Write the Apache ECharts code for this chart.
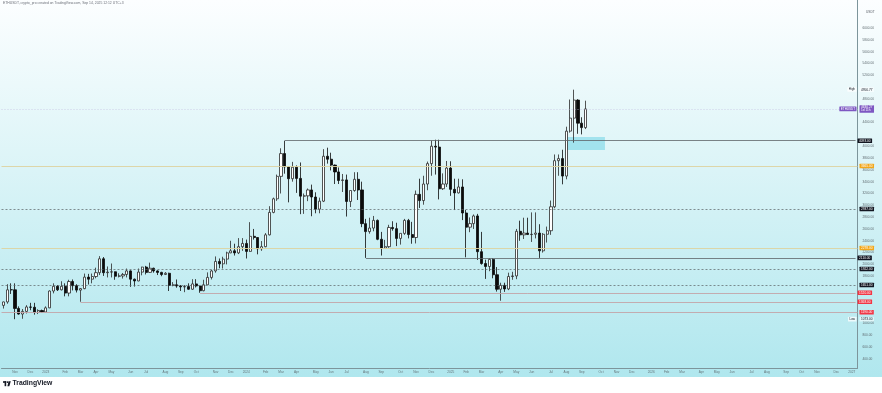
<!DOCTYPE html>
<html><head><meta charset="utf-8">
<script src="https://cdn.jsdelivr.net/npm/echarts@6.0.0/dist/echarts.min.js"></script>
<style>html,body{margin:0;padding:0;background:#fff}#c{width:882px;height:393px}</style>
</head><body><div id="c"></div>
<script>
// ---- weekly candles (ETHUSDT), first week 2022-10-17 ----
const firstWeek = '2022-10-17';
const totalWeeks = 222;
const open = [1307,1365,1572,1570,1255,1160,1205,1280,1275,1190,1220,1195,1265,1550,1630,1570,1630,1515,1710,1640,
1565,1590,1785,1750,1795,1860,2095,1860,1870,1875,1800,1805,1830,1890,1750,1720,1870,1955,1865,1935,
1890,1865,1830,1850,1645,1655,1635,1620,1625,1580,1670,1635,1555,1655,1780,1890,2050,2010,2090,2195,
2230,2195,2300,2355,2220,2475,2455,2265,2300,2500,2880,3110,3490,3875,3650,3450,3645,3455,3155,3160,
3260,3140,2935,3070,3830,3780,3680,3565,3420,3430,3065,3250,3440,3260,2690,2555,2615,2745,2425,2275,
2300,2625,2605,2440,2525,2745,2505,2455,3185,3080,3360,3705,4000,3985,3280,3360,3630,3270,3210,3310,
2870,2630,2690,2820,2215,2015,1965,2085,1825,1580,1645,1585,1795,1805,2560,2500,2530,2505,2510,2530,
2230,2510,2570,2975,3755,3790,3495,4255,4475,4780,4390,4315];
const close = [1365,1570,1570,1255,1160,1205,1280,1275,1190,1220,1195,1265,1550,1630,1570,1630,1515,1710,1640,1565,
1590,1785,1750,1795,1860,2095,1860,1870,1875,1800,1805,1830,1890,1750,1720,1870,1955,1865,1935,1890,
1865,1830,1850,1645,1655,1635,1620,1625,1580,1670,1635,1555,1655,1780,1890,2050,2010,2090,2195,2230,
2195,2300,2355,2220,2475,2455,2265,2300,2500,2880,3110,3490,3875,3650,3450,3645,3455,3155,3160,3260,
3140,2935,3070,3830,3780,3680,3565,3420,3430,3065,3250,3440,3260,2690,2555,2615,2745,2425,2275,2300,
2625,2605,2440,2525,2745,2505,2455,3185,3080,3360,3705,4000,3985,3280,3360,3630,3270,3210,3310,2870,
2630,2690,2820,2215,2015,1965,2085,1825,1580,1645,1585,1795,1805,2560,2500,2530,2505,2510,2530,2230,
2510,2570,2975,3755,3790,3495,4255,4475,4780,4390,4315,4630.27];
const high = [1370,1665,1680,1680,1290,1245,1310,1350,1350,1240,1235,1290,1560,1680,1650,1715,1680,1740,1745,1665,
1600,1845,1840,1845,1945,2140,2125,1965,2015,1880,1850,1855,1930,1900,1760,1930,1960,1975,2030,1945,
1900,1875,1870,1860,1700,1745,1650,1650,1680,1750,1750,1640,1740,1865,1910,2135,2100,2130,2215,2400,
2350,2445,2445,2420,2715,2600,2460,2395,2530,2985,3130,3520,3965,4093,3660,3735,3675,3725,3200,3285,
3350,3220,3130,3950,3975,3890,3690,3640,3530,3520,3250,3560,3560,3400,2770,2790,2820,2760,2550,2415,
2670,2730,2705,2525,2770,2770,2720,3250,3450,3500,3740,4095,4110,4110,3540,3750,3745,3450,3450,3440,
2920,2795,2845,2855,2550,2080,2105,2105,1955,1690,1690,1860,1875,2600,2740,2790,2790,2880,2880,2680,
2530,2640,3080,3860,3860,3940,4330,4790,4956.77,4795,4490,4770];
const low = [1253,1335,1500,1073,1150,1080,1170,1225,1150,1160,1180,1190,1260,1510,1550,1560,1460,1460,1560,1525,
1368,1580,1660,1680,1765,1820,1805,1780,1780,1740,1780,1760,1780,1620,1625,1715,1815,1830,1855,1860,
1820,1800,1820,1550,1630,1605,1550,1530,1570,1570,1610,1520,1545,1655,1745,1860,1935,1930,2000,2190,
2150,2175,2230,2100,2210,2420,2170,2230,2290,2490,2865,3075,3200,3535,3050,3400,3210,2850,2855,3070,
2815,2865,2865,3055,3705,3590,3360,3360,3225,2810,2970,3230,3090,2630,2110,2520,2560,2410,2150,2265,
2280,2570,2310,2335,2500,2440,2350,2355,2955,3010,3255,3500,3520,3100,3260,3310,3160,2920,3200,2750,
2120,2545,2600,2075,1995,1755,1885,1765,1540,1385,1535,1565,1740,1750,2400,2430,2500,2380,2440,2110,
2200,2370,2500,2950,3500,3355,3440,4230,4060,4210,4200,4290];

// ---- drawn levels ----
const grayLevels = [4093, 2110];
const grayStarts = ['2024-03-11', '2024-08-05'];
const yellowLevels = [3665, 2278];
const dashedLevels = [2937, 1922, 1651];
const redLevels = [1520, 1368, 1190];
const redStarts = ['2023-10-09', '2023-03-06', null];
const zoneStart = '2025-08-04', zoneEnd = '2025-10-13';
const zoneTop = 4155, zoneBottom = 3935;

// ---- axis text ----
const monthNames = ['Jan','Feb','Mar','Apr','May','Jun','Jul','Aug','Sep','Oct','Nov','Dec'];
const hiddenPriceLabels = [1200, 1400, 1600, 4200, 4600, 5000];
const titleText = 'ETHUSDT, crypto_pro created on TradingView.com, Sep 14, 2025 12:12 UTC+3';
const symbolName = 'ETHUSDT';
const countdown = '1d 11h';

// build weekly categories
const categories = [];
const t0 = Date.parse(firstWeek + 'T00:00:00Z');
for (let i = 0; i < totalWeeks; i++) {
  categories.push(new Date(t0 + i * 7 * 86400000).toISOString().slice(0, 10));
}
const lastCat = categories[categories.length - 1];

// pixel calibration of the price scale (price per pixel)
const ppp = 16.92;
const priceAt = y => 6000 - (y - 28) * ppp;
const FONT = 'Liberation Sans, Arial, sans-serif';
const HIDDEN = { color: 'rgba(0,0,0,0)', width: 0.1 };

function endLabel(txt, bg, fg) {
  return { show: true, position: 'end', distance: 2, formatter: txt, fontSize: 3.2, fontFamily: FONT,
    color: fg || '#fff', backgroundColor: bg, padding: [0.8, 1.5], borderRadius: 0.5 };
}
function tagLabel(txt, bg, fg) {
  return { show: true, position: 'insideEndTop', distance: [1, -2.2], formatter: txt, fontSize: 3, fontFamily: FONT,
    color: fg, backgroundColor: bg, padding: [0.8, 1.5], borderRadius: 0.5 };
}
const mlData = [];
grayLevels.forEach((v, i) => {
  mlData.push([{ coord: [grayStarts[i], v], lineStyle: { color: '#5e6468', width: 0.8, type: 'solid' },
    label: endLabel(v.toFixed(2), '#131722') }, { coord: [lastCat, v] }]);
});
yellowLevels.forEach(v => {
  mlData.push({ yAxis: v, lineStyle: { color: '#dcd39f', width: 0.9, type: 'solid' }, label: endLabel(v.toFixed(2), '#f2a71b') });
});
dashedLevels.forEach(v => {
  mlData.push({ yAxis: v, lineStyle: { color: '#5b6266', width: 0.7, type: [2, 2] }, label: endLabel(v.toFixed(2), '#131722') });
});
redLevels.forEach((v, i) => {
  const ls = { color: '#c3a5a8', width: 0.9, type: 'solid' };
  const lb = endLabel(v.toFixed(2), '#f23645');
  if (redStarts[i]) mlData.push([{ coord: [redStarts[i], v], lineStyle: ls, label: lb }, { coord: [lastCat, v] }]);
  else mlData.push({ yAxis: v, lineStyle: ls, label: lb });
});
const lastClose = close[close.length - 1];
const maxHigh = Math.max(...high), minLow = Math.min(...low);
mlData.push({ yAxis: lastClose, lineStyle: { color: '#c4bfe0', width: 0.7, type: [1, 2] },
  label: endLabel(lastClose.toFixed(2) + '\n' + countdown, '#7e57c2') });
mlData.push({ yAxis: lastClose, lineStyle: HIDDEN, label: tagLabel(symbolName, '#7e57c2', '#fff') });
mlData.push({ yAxis: maxHigh, lineStyle: HIDDEN, label: endLabel(maxHigh.toFixed(2), 'rgba(255,255,255,0.55)', '#131722') });
mlData.push({ yAxis: maxHigh, lineStyle: HIDDEN, label: tagLabel('High', 'rgba(255,255,255,0.75)', '#131722') });
mlData.push({ yAxis: minLow, lineStyle: HIDDEN, label: endLabel(minLow.toFixed(2), 'rgba(255,255,255,0.55)', '#131722') });
mlData.push({ yAxis: minLow, lineStyle: HIDDEN, label: tagLabel('Low', 'rgba(255,255,255,0.75)', '#131722') });

const chart = echarts.init(document.getElementById('c'), null, { renderer: 'canvas' });
const gridL = 1.5, gridR = 24.5;
const axisColor = '#7d959b';
chart.setOption({
  animation: false,
  backgroundColor: 'transparent',
  textStyle: { fontFamily: FONT },
  graphic: [
    { type: 'rect', z: -10, silent: true, shape: { x: 0, y: 0, width: 882, height: 377 },
      style: { fill: new echarts.graphic.LinearGradient(0, 0, 0, 1, [
        { offset: 0, color: '#fcfeff' }, { offset: 0.45, color: '#dbf4f7' }, { offset: 1, color: '#b0e7ee' }]) } },
    { type: 'text', left: 3, top: 2, style: { text: titleText, fontSize: 3.4, fill: '#6b6f78', fontFamily: FONT } },
    { type: 'text', left: 866, top: 11, style: { text: 'USDT', fontSize: 3.2, fill: '#555b63', fontFamily: FONT } },
    { type: 'group', left: 3, top: 380, children: [
      { type: 'rect', shape: { x: 0, y: 0, width: 3.2, height: 1.6 }, style: { fill: '#131722' } },
      { type: 'rect', shape: { x: 1.6, y: 0, width: 1.6, height: 5 }, style: { fill: '#131722' } },
      { type: 'circle', shape: { cx: 4.6, cy: 0.9, r: 0.9 }, style: { fill: '#131722' } },
      { type: 'polygon', shape: { points: [[5.6, 0], [7.8, 0], [6.3, 5], [4.4, 5]] }, style: { fill: '#131722' } },
      { type: 'text', x: 9.5, y: -1.2, style: { text: 'TradingView', fontSize: 6.8, fontWeight: 'bold', fill: '#131722', fontFamily: FONT } }
    ] }
  ],
  grid: [
    { left: gridL, right: gridR, top: 0, bottom: 25, containLabel: false },
    { left: gridL, right: gridR, top: 28 - 400 / ppp, bottom: 393 - (28 + 5800 / ppp), containLabel: false }
  ],
  xAxis: [
    { type: 'category', gridIndex: 0, data: categories, boundaryGap: true,
      axisLine: { lineStyle: { color: axisColor, width: 1 } }, axisTick: { show: false }, splitLine: { show: false },
      axisLabel: { fontSize: 3.2, color: '#66757a', margin: 3, fontFamily: FONT,
        interval: (idx, val) => idx > 0 && val.slice(5, 7) !== categories[idx - 1].slice(5, 7),
        formatter: val => { const m = +val.slice(5, 7); return m === 1 ? val.slice(0, 4) : monthNames[m - 1]; } } },
    { type: 'category', gridIndex: 1, data: categories, show: false }
  ],
  yAxis: [
    { type: 'value', gridIndex: 0, position: 'right', min: priceAt(368), max: priceAt(0), scale: true,
      axisLine: { show: true, lineStyle: { color: axisColor, width: 1 } }, axisTick: { show: false },
      axisLabel: { show: false }, splitLine: { show: false } },
    { type: 'value', gridIndex: 1, position: 'right', min: 200, max: 6400, interval: 200,
      axisLine: { show: false }, axisTick: { show: false }, splitLine: { show: false },
      axisLabel: { fontSize: 3.2, color: '#5f6b70', margin: 5, fontFamily: FONT,
        formatter: v => (v < 400 || v > 6000 || hiddenPriceLabels.includes(v)) ? '' : v.toFixed(2) } }
  ],
  series: [{
    type: 'candlestick', xAxisIndex: 0, yAxisIndex: 0, barWidth: 2.6,
    data: open.map((o, i) => [o, close[i], low[i], high[i]]),
    itemStyle: { color: '#ffffff', color0: '#0b0b0b', borderColor: '#2a2a2a', borderColor0: '#0b0b0b', borderWidth: 0.8 },
    markLine: { silent: true, symbol: ['none', 'none'], animation: false, data: mlData },
    markArea: { silent: true, itemStyle: { color: 'rgba(60,196,222,0.38)' },
      data: [[{ coord: [zoneStart, zoneTop] }, { coord: [zoneEnd, zoneBottom] }]] }
  }]
});
</script></body></html>
